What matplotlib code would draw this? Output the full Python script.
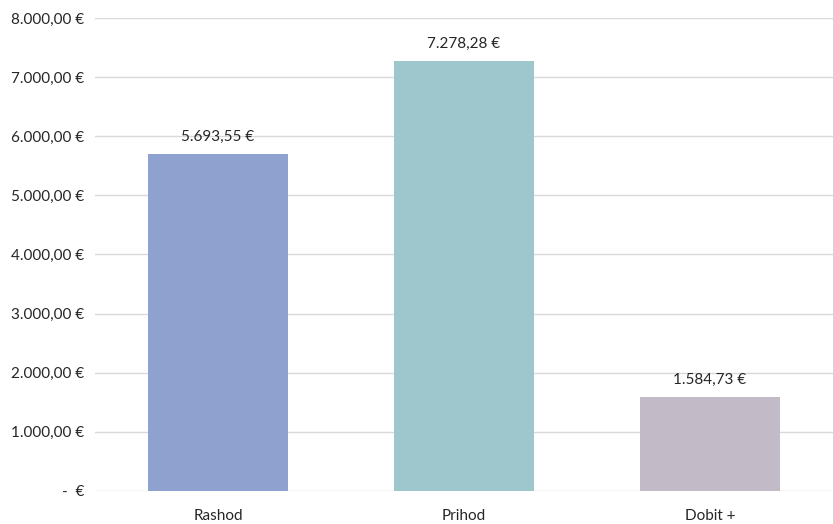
import matplotlib
matplotlib.use("Agg")
import matplotlib.pyplot as plt
from matplotlib.ticker import FixedLocator, FuncFormatter

categories = ["Rashod", "Prihod", "Dobit +"]
values = [5693.55, 7278.28, 1584.73]
colors = ["#8FA2CF", "#9DC7CC", "#C2BAC6"]
yticks = [0, 1000, 2000, 3000, 4000, 5000, 6000, 7000, 8000]

plt.rcParams['font.family'] = ['Lato', 'DejaVu Sans']

def eur(v):
    if v == 0:
        return "-  €"
    s = f"{v:,.2f}"
    s = s.replace(",", "X").replace(".", ",").replace("X", ".")
    return s + " €"

fig = plt.figure(figsize=(8.33, 5.24), dpi=100)
ax = fig.add_axes([95/833, 1-491/524, 1-95/833, (491-18)/524])

x = list(range(len(categories)))
bars = ax.bar(x, values, width=0.573, color=colors, zorder=3)
for xi, v in zip(x, values):
    ax.text(xi, v + 170, eur(v), ha="center", va="bottom", fontsize=11, color="#262626", zorder=4)

ax.set_xlim(-0.5, 2.5)
ax.set_ylim(0, 8000)
ax.yaxis.set_major_locator(FixedLocator(yticks))
ax.yaxis.set_major_formatter(FuncFormatter(lambda v, p: eur(v)))
ax.set_xticks(x)
ax.set_xticklabels(categories)
ax.grid(axis="y", color="#D9D9D9", linewidth=1, zorder=0)
for s in ax.spines.values():
    s.set_visible(False)
ax.tick_params(axis="both", length=0, labelsize=11, colors="#262626")
ax.tick_params(axis="y", pad=8)
ax.tick_params(axis="x", pad=13)

fig.savefig("out.png", dpi=100)
